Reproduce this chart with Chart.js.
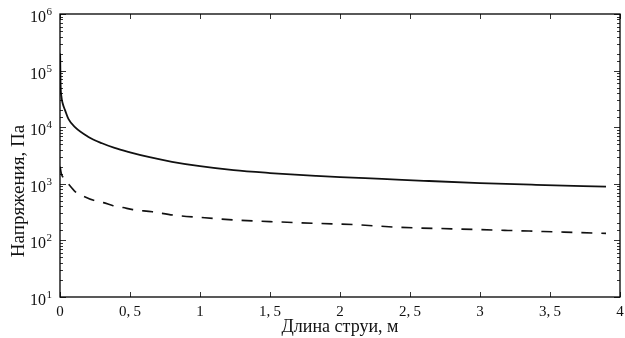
<!DOCTYPE html>
<html>
<head>
<meta charset="utf-8">
<script src="https://cdn.jsdelivr.net/npm/chart.js@4"></script>
<style>
  html, body { margin: 0; padding: 0; background: #fff; }
  #wrap { width: 625px; height: 338px; }
</style>
</head>
<body>
<div id="wrap"><canvas id="chart"></canvas></div>
<script>
// solid curve (stress along the jet)
const solidX = [0.001, 0.004, 0.01, 0.02, 0.036, 0.06, 0.107, 0.2, 0.3, 0.39, 0.5, 0.64, 0.8, 1, 1.24, 1.5, 1.83, 2, 2.3, 2.6, 3, 3.4, 3.9];
const solidY = [200000, 60000, 35000, 26000, 20000, 14000, 10000, 6800, 5200, 4300, 3600, 2950, 2450, 2050, 1740, 1550, 1380, 1310, 1220, 1130, 1030, 960, 890];

// dashed curve
const dashX = [0.001, 0.01, 0.02, 0.055, 0.11, 0.17, 0.24, 0.31, 0.38, 0.45, 0.52, 0.66, 0.81, 1, 1.24, 1.5, 1.83, 2.1, 2.43, 2.8, 3.2, 3.6, 3.9];
const dashY = [2000, 1500, 1320, 1030, 720, 600, 510, 465, 410, 380, 350, 320, 280, 255, 230, 215, 200, 190, 170, 160, 150, 140, 133];

const xTicks = [0, 0.5, 1, 1.5, 2, 2.5, 3, 3.5, 4];
const xLabels = ['0', '0,\u20095', '1', '1,\u20095', '2', '2,\u20095', '3', '3,\u20095', '4'];
const yPowers = [1, 2, 3, 4, 5, 6];

const xTitle = 'Длина струи, м';
const yTitle = 'Напряжения, Па';

const FONT = '"Liberation Serif", "DejaVu Serif", serif';

function toPoints(xs, ys) {
    return xs.map((x, i) => ({ x: x, y: ys[i] }));
}

function isPow10(v) {
    const l = Math.log10(v);
    return Math.abs(l - Math.round(l)) < 1e-6;
}

// frame, inward ticks, 10^n labels and the rotated y title
const framePlugin = {
    id: 'frame',
    afterDraw(chart) {
        const { ctx, chartArea: a, scales } = chart;
        ctx.save();
        ctx.strokeStyle = '#000';
        ctx.lineWidth = 1.3;
        ctx.strokeRect(a.left, a.top, a.right - a.left, a.bottom - a.top);

        ctx.lineWidth = 0.8;
        ctx.beginPath();
        xTicks.forEach(v => {
            const px = Math.round(scales.x.getPixelForValue(v)) + 0.5;
            ctx.moveTo(px, a.bottom); ctx.lineTo(px, a.bottom - 5);
            ctx.moveTo(px, a.top); ctx.lineTo(px, a.top + 5);
        });
        scales.y.ticks.forEach(t => {
            const py = Math.round(scales.y.getPixelForValue(t.value)) + 0.5;
            const len = isPow10(t.value) ? 6 : 3;
            ctx.moveTo(a.left, py); ctx.lineTo(a.left + len, py);
            ctx.moveTo(a.right, py); ctx.lineTo(a.right - len, py);
        });
        ctx.stroke();

        // y tick labels: 10 with a raised exponent
        ctx.fillStyle = '#111';
        ctx.textBaseline = 'alphabetic';
        yPowers.forEach(p => {
            const py = scales.y.getPixelForValue(Math.pow(10, p));
            ctx.font = '11px ' + FONT;
            const ew = ctx.measureText(String(p)).width;
            const expX = a.left - 8 - ew;
            ctx.textAlign = 'left';
            ctx.fillText(String(p), expX, py + 1);
            ctx.font = '16px ' + FONT;
            ctx.textAlign = 'right';
            ctx.fillText('10', expX - 0.5, py + 8);
        });

        // y axis title
        ctx.translate(19, 191);
        ctx.rotate(-Math.PI / 2);
        ctx.font = '19px ' + FONT;
        ctx.textAlign = 'center';
        ctx.textBaseline = 'middle';
        ctx.fillText(yTitle, 0, 0);
        ctx.restore();
    }
};

new Chart(document.getElementById('chart'), {
    type: 'line',
    data: {
        datasets: [
            {
                data: toPoints(solidX, solidY),
                borderColor: '#111',
                borderWidth: 1.8,
                pointRadius: 0,
                cubicInterpolationMode: 'monotone',
                fill: false
            },
            {
                data: toPoints(dashX, dashY),
                borderColor: '#111',
                borderWidth: 1.6,
                borderDash: [11, 9],
                pointRadius: 0,
                cubicInterpolationMode: 'monotone',
                fill: false
            }
        ]
    },
    options: {
        responsive: true,
        maintainAspectRatio: false,
        animation: false,
        layout: { padding: { left: 2, right: 5, top: 14, bottom: 0 } },
        plugins: {
            legend: { display: false },
            tooltip: { enabled: false }
        },
        scales: {
            x: {
                type: 'linear',
                min: 0,
                max: 4,
                grid: { display: false },
                border: { display: false },
                afterBuildTicks: s => { s.ticks = xTicks.map(v => ({ value: v })); },
                afterFit: s => { s.height = 41; },
                ticks: {
                    color: '#111',
                    padding: -2,
                    maxRotation: 0,
                    autoSkip: false,
                    font: { family: FONT, size: 15 },
                    callback: v => xLabels[xTicks.indexOf(v)]
                },
                title: {
                    display: true,
                    text: xTitle,
                    color: '#111',
                    padding: { top: 0, bottom: 0 },
                    font: { family: FONT, size: 18 }
                }
            },
            y: {
                type: 'logarithmic',
                min: 10,
                max: 1000000,
                grid: { display: false },
                border: { display: false },
                afterFit: s => { s.width = 58; },
                ticks: { display: false, autoSkip: false }
            }
        }
    },
    plugins: [framePlugin]
});
</script>
</body>
</html>
